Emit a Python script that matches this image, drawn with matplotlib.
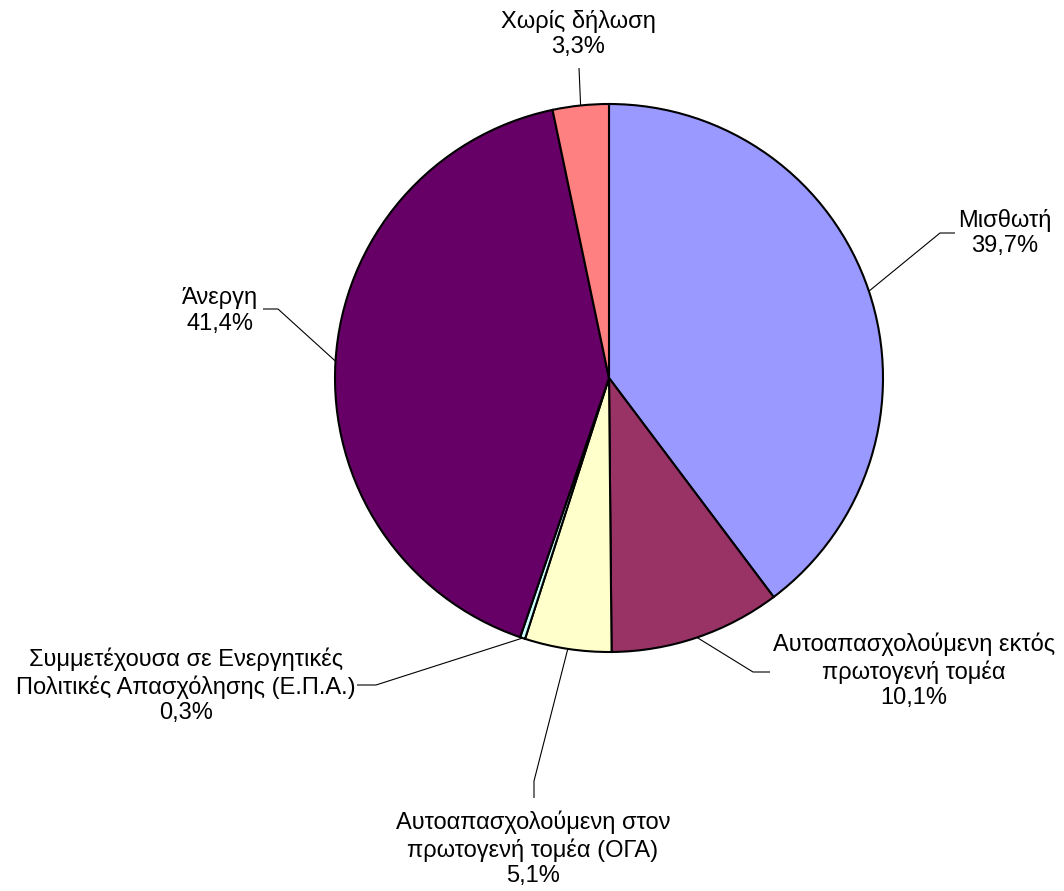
import matplotlib
matplotlib.use("Agg")
import matplotlib.pyplot as plt
import numpy as np

labels = ["Μισθωτή", "Αυτοαπασχολούμενη εκτός\nπρωτογενή τομέα", "Αυτοαπασχολούμενη στον\nπρωτογενή τομέα (ΟΓΑ)",
          "Συμμετέχουσα σε Ενεργητικές\nΠολιτικές Απασχόλησης (Ε.Π.Α.)", "Άνεργη", "Χωρίς δήλωση"]
values = [39.7, 10.1, 5.1, 0.3, 41.4, 3.3]
pct_text = ["39,7%", "10,1%", "5,1%", "0,3%", "41,4%", "3,3%"]
colors = ["#9999FF", "#993366", "#FFFFCC", "#CCFFFF", "#660066", "#FF8080"]

W, H = 1064, 891
fig = plt.figure(figsize=(W/100, H/100), dpi=100)
ax = fig.add_axes([0, 0, 1, 1])

cx, cy, r = 609, H - 378, 274
wedges, _ = ax.pie(values, colors=colors, startangle=90, counterclock=False,
                   center=(cx, cy), radius=r, frame=True,
                   wedgeprops=dict(edgecolor="black", linewidth=1.5))
ax.set_xlim(0, W)
ax.set_ylim(0, H)
ax.set_aspect("equal")
ax.axis("off")

# label block centre (pixel coords), leader path points in pixel coords
label_pos = [(1005, 233), (914, 671), (533, 849), (186, 686), (220, 311), (578, 34)]
leader_pts = [
    [(940, 233), (955, 233)],
    [(753, 672), (770, 672)],
    [(534, 781), (534, 798)],
    [(376, 685), (357, 685)],
    [(278, 309), (263, 309)],
    [(579, 68)],
]

for w, lab, pct, (lx, ly), pts in zip(wedges, labels, pct_text, label_pos, leader_pts):
    ang = np.deg2rad((w.theta1 + w.theta2) / 2)
    sx, sy = cx + r*np.cos(ang), cy + r*np.sin(ang)
    xs = [sx] + [p[0] for p in pts]
    ys = [sy] + [H - p[1] for p in pts]
    ax.plot(xs, ys, color="black", linewidth=0.8, solid_capstyle="butt")
    ax.text(lx, H - ly, lab + "\n" + pct, ha="center", va="center",
            fontsize=17, family=["Liberation Sans", "DejaVu Sans"],
            linespacing=1.22)

fig.savefig("out.png", dpi=100)
